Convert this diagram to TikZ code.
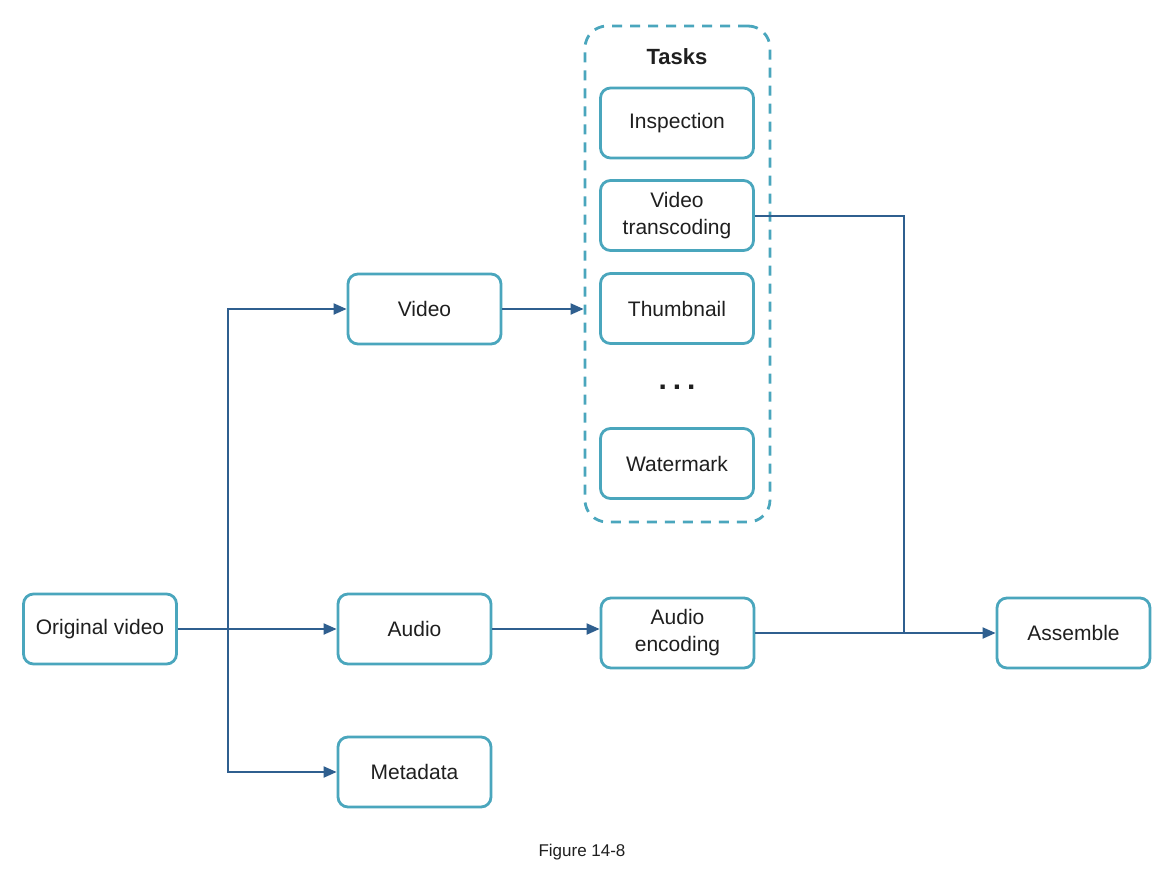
\documentclass[tikz,border=0pt]{standalone}
\usepackage{fontspec}
\setmainfont{Liberation Sans}
\usetikzlibrary{arrows.meta}
\definecolor{boxc}{HTML}{4AA6BD}
\definecolor{arrc}{HTML}{2F5F8F}
\begin{document}
\begin{tikzpicture}[x=1pt,y=-1pt,
  box/.style={draw=boxc,line width=2.8pt,rounded corners=10pt,fill=white,
    minimum width=153pt,minimum height=70pt,align=center,
    font=\fontsize{21}{27}\selectfont,text=black!88},
  group/.style={draw=boxc,line width=2.8pt,rounded corners=22pt,
    dash pattern=on 10pt off 8pt,minimum width=185pt,minimum height=496pt},
  arr/.style={draw=arrc,line width=2pt,-{Triangle[length=13pt,width=11pt]}},
  conn/.style={draw=arrc,line width=2pt}]
\useasboundingbox[fill=white] (0,0) rectangle (1164,879);
% container
\node[group] (tasks) at (677.5,274) {};
\node[font=\fontsize{22}{26}\selectfont\bfseries,text=black!88] (tlabel) at (677,57) {Tasks};
% nodes
\node[box] (orig) at (100,629) {Original video};
\node[box] (video) at (424.5,309) {Video};
\node[box] (audio) at (414.5,629) {Audio};
\node[box] (meta) at (414.5,772) {Metadata};
\node[box] (insp) at (677,123) {Inspection};
\node[box] (vtrans) at (677,215.5) {Video\\transcoding};
\node[box] (thumb) at (677,308.5) {Thumbnail};
\node[font=\fontsize{30}{30}\selectfont\bfseries,text=black!88] (dots) at (677,387) {.\hspace{6pt}.\hspace{6pt}.};
\node[box] (water) at (677,463.5) {Watermark};
\node[box] (aenc) at (677.5,633) {Audio\\encoding};
\node[box] (assem) at (1073.5,633) {Assemble};
\node[font=\fontsize{17}{20}\selectfont,text=black!88] (cap) at (582,852) {Figure 14-8};
% connectors
\coordinate (j) at (228,629);
\coordinate (k) at (904,633);
\draw[arr] (orig.east) -- (audio.west);
\draw[arr] (j) |- (video.west);
\draw[arr] (j) |- (meta.west);
\draw[arr] (video.east) -- (video.east -| tasks.west);
\draw[arr] (audio.east) -- (audio.east -| aenc.west);
\draw[arr] (aenc.east) -- (assem.west);
\draw[conn] (vtrans.east) -| (k);
\end{tikzpicture}
\end{document}
